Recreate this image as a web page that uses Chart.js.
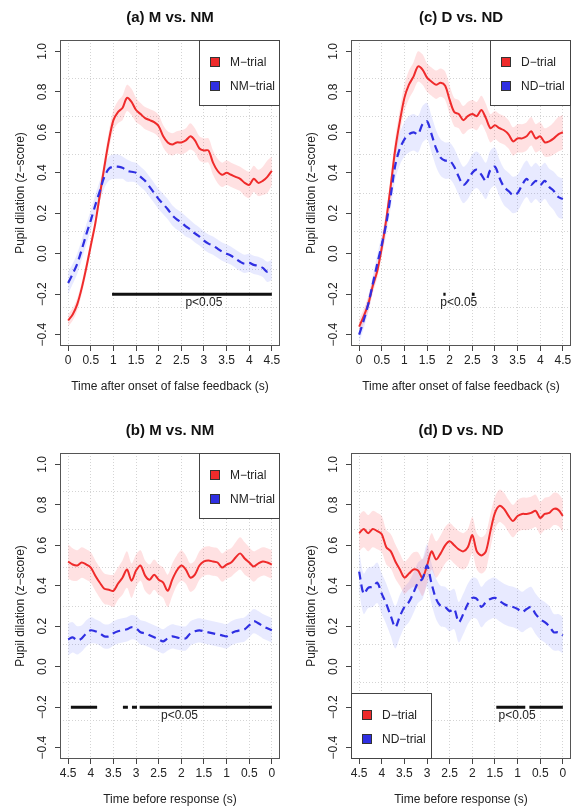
<!DOCTYPE html>
<html>
<head>
<meta charset="utf-8">
<script src="https://cdn.jsdelivr.net/npm/chart.js@4.4.1/dist/chart.umd.min.js"></script>
<style>
    html, body { margin: 0; padding: 0; background: #fff; }
    body { position: relative; width: 574px; height: 807px; overflow: hidden; }
    canvas { position: absolute; }
</style>
</head>
<body>
<canvas id="chartA" width="287" height="400" style="left:0px;top:0px"></canvas>
<canvas id="chartC" width="287" height="400" style="left:291px;top:0px"></canvas>
<canvas id="chartB" width="287" height="400" style="left:0px;top:413px"></canvas>
<canvas id="chartD" width="287" height="400" style="left:291px;top:413px"></canvas>
<script>
// time axes (s)
const timeAfter = [0, 0.1, 0.2, 0.3, 0.4, 0.5, 0.6, 0.7, 0.8, 0.9, 1.0, 1.1, 1.2, 1.3, 1.4, 1.5, 1.6, 1.7, 1.8, 1.9, 2.0, 2.1, 2.2,
    2.3, 2.4, 2.5, 2.6, 2.7, 2.8, 2.9, 3.0, 3.1, 3.2, 3.3, 3.4, 3.5, 3.6, 3.7, 3.8, 3.9, 4.0, 4.1, 4.2, 4.3, 4.4, 4.5]
const timeBefore = [4.5, 4.4, 4.3, 4.2, 4.1, 4.0, 3.9, 3.8, 3.7, 3.6, 3.5, 3.4, 3.3, 3.2, 3.1, 3.0, 2.9, 2.8, 2.7, 2.6, 2.5, 2.4, 2.3,
    2.2, 2.1, 2.0, 1.9, 1.8, 1.7, 1.6, 1.5, 1.4, 1.3, 1.2, 1.1, 1.0, 0.9, 0.8, 0.7, 0.6, 0.5, 0.4, 0.3, 0.2, 0.1, 0]

const xTicks = [0, 0.5, 1, 1.5, 2, 2.5, 3, 3.5, 4, 4.5]
const yTicks = [-0.4, -0.2, 0, 0.2, 0.4, 0.6, 0.8, 1.0]

// (a) M vs. NM, after false feedback
const mTrialA = [-0.33, -0.30, -0.25, -0.17, -0.07, 0.04, 0.15, 0.29, 0.43, 0.56, 0.66, 0.70, 0.72, 0.77, 0.75, 0.71, 0.69, 0.67,
    0.66, 0.65, 0.63, 0.58, 0.55, 0.54, 0.55, 0.55, 0.56, 0.58, 0.56, 0.52, 0.51, 0.51, 0.45, 0.41, 0.39, 0.40, 0.39, 0.38, 0.37,
    0.35, 0.34, 0.37, 0.35, 0.36, 0.38, 0.41]
const mTrialASe = [0.03, 0.03, 0.03, 0.03, 0.03, 0.03, 0.03, 0.035, 0.04, 0.045, 0.05, 0.055, 0.06, 0.065, 0.065, 0.06, 0.055, 0.055,
    0.055, 0.055, 0.055, 0.055, 0.055, 0.055, 0.055, 0.06, 0.06, 0.065, 0.06, 0.06, 0.06, 0.06, 0.06, 0.06, 0.06, 0.06, 0.06, 0.06,
    0.06, 0.065, 0.065, 0.065, 0.065, 0.07, 0.08, 0.07]
const nmTrialA = [-0.145, -0.10, -0.05, 0.02, 0.095, 0.165, 0.24, 0.31, 0.38, 0.42, 0.43, 0.43, 0.425, 0.41, 0.405, 0.40, 0.38, 0.36,
    0.33, 0.30, 0.27, 0.245, 0.22, 0.19, 0.17, 0.155, 0.135, 0.12, 0.10, 0.085, 0.065, 0.05, 0.04, 0.025, 0.01, 0.0, -0.01, -0.025,
    -0.04, -0.05, -0.045, -0.055, -0.06, -0.07, -0.09, -0.08]
const nmTrialASe = [0.055, 0.05, 0.05, 0.05, 0.05, 0.05, 0.05, 0.05, 0.055, 0.06, 0.06, 0.06, 0.055, 0.055, 0.05, 0.05, 0.05, 0.05,
    0.05, 0.05, 0.05, 0.05, 0.05, 0.05, 0.05, 0.05, 0.05, 0.045, 0.045, 0.045, 0.045, 0.045, 0.045, 0.045, 0.045, 0.045, 0.045, 0.045,
    0.045, 0.045, 0.045, 0.045, 0.045, 0.045, 0.05, 0.05]
const sigA = [[0.97, 4.5]]

// (c) D vs. ND, after false feedback
const dTrialC = [-0.36, -0.31, -0.25, -0.16, -0.085, 0.03, 0.17, 0.34, 0.52, 0.655, 0.77, 0.835, 0.875, 0.925, 0.91, 0.87, 0.85, 0.835,
    0.845, 0.83, 0.76, 0.70, 0.69, 0.66, 0.68, 0.69, 0.68, 0.71, 0.67, 0.62, 0.635, 0.62, 0.61, 0.59, 0.555, 0.57, 0.57, 0.58, 0.605,
    0.57, 0.58, 0.55, 0.555, 0.57, 0.59, 0.60]
const dTrialCSe = [0.035, 0.035, 0.035, 0.035, 0.035, 0.04, 0.045, 0.05, 0.055, 0.06, 0.065, 0.07, 0.07, 0.075, 0.075, 0.07, 0.07, 0.07,
    0.07, 0.07, 0.07, 0.07, 0.07, 0.07, 0.07, 0.07, 0.07, 0.07, 0.07, 0.07, 0.07, 0.07, 0.07, 0.07, 0.07, 0.07, 0.07, 0.07, 0.07,
    0.07, 0.07, 0.07, 0.075, 0.08, 0.085, 0.085]
const ndTrialC = [-0.40, -0.33, -0.25, -0.15, -0.05, 0.045, 0.15, 0.29, 0.44, 0.52, 0.565, 0.59, 0.60, 0.59, 0.64, 0.655, 0.59, 0.52,
    0.475, 0.46, 0.46, 0.43, 0.38, 0.34, 0.36, 0.40, 0.415, 0.39, 0.36, 0.415, 0.43, 0.375, 0.33, 0.31, 0.29, 0.30, 0.34, 0.37, 0.34,
    0.36, 0.34, 0.36, 0.33, 0.31, 0.28, 0.27]
const ndTrialCSe = [0.04, 0.04, 0.04, 0.04, 0.045, 0.05, 0.055, 0.06, 0.07, 0.08, 0.085, 0.09, 0.09, 0.09, 0.09, 0.09, 0.09, 0.09,
    0.09, 0.09, 0.09, 0.09, 0.09, 0.09, 0.09, 0.09, 0.09, 0.09, 0.09, 0.095, 0.095, 0.09, 0.09, 0.09, 0.09, 0.09, 0.09, 0.09, 0.09,
    0.09, 0.09, 0.09, 0.09, 0.095, 0.1, 0.1]
const sigC = [[1.86, 1.91], [2.49, 2.55]]

// (b) M vs. NM, before response
const mTrialB = [0.52, 0.505, 0.50, 0.515, 0.505, 0.49, 0.45, 0.415, 0.385, 0.38, 0.375, 0.41, 0.44, 0.48, 0.425, 0.475, 0.50, 0.45,
    0.43, 0.455, 0.43, 0.415, 0.375, 0.43, 0.475, 0.50, 0.48, 0.44, 0.455, 0.50, 0.52, 0.525, 0.52, 0.515, 0.49, 0.505, 0.515, 0.54,
    0.56, 0.535, 0.515, 0.495, 0.51, 0.52, 0.515, 0.505]
const mTrialBSe = [0.085, 0.08, 0.075, 0.075, 0.075, 0.075, 0.075, 0.075, 0.075, 0.075, 0.08, 0.08, 0.085, 0.09, 0.085, 0.08, 0.075,
    0.075, 0.075, 0.075, 0.075, 0.075, 0.08, 0.08, 0.075, 0.075, 0.07, 0.07, 0.07, 0.07, 0.07, 0.07, 0.07, 0.07, 0.07, 0.07, 0.07,
    0.075, 0.08, 0.08, 0.075, 0.075, 0.07, 0.07, 0.07, 0.07]
const nmTrialB = [0.135, 0.145, 0.13, 0.14, 0.165, 0.18, 0.175, 0.165, 0.15, 0.15, 0.165, 0.175, 0.18, 0.185, 0.195, 0.19, 0.17, 0.165,
    0.155, 0.145, 0.135, 0.125, 0.14, 0.15, 0.145, 0.14, 0.14, 0.165, 0.175, 0.18, 0.175, 0.17, 0.165, 0.16, 0.155, 0.15, 0.165, 0.175,
    0.18, 0.185, 0.205, 0.225, 0.215, 0.20, 0.19, 0.18]
const nmTrialBSe = [0.08, 0.075, 0.07, 0.065, 0.065, 0.065, 0.06, 0.06, 0.06, 0.06, 0.06, 0.06, 0.06, 0.06, 0.06, 0.06, 0.06, 0.06,
    0.06, 0.06, 0.06, 0.06, 0.06, 0.06, 0.06, 0.06, 0.06, 0.06, 0.06, 0.06, 0.06, 0.06, 0.06, 0.06, 0.06, 0.06, 0.06, 0.06, 0.06,
    0.06, 0.06, 0.06, 0.06, 0.06, 0.06, 0.06]
const sigB = [[4.44, 3.86], [3.29, 3.18], [3.09, 2.98], [2.92, 0]]

// (d) D vs. ND, before response
const dTrialD = [0.66, 0.68, 0.66, 0.68, 0.67, 0.655, 0.59, 0.57, 0.52, 0.48, 0.44, 0.46, 0.48, 0.475, 0.44, 0.50, 0.57, 0.53, 0.56,
    0.60, 0.62, 0.60, 0.58, 0.57, 0.59, 0.65, 0.57, 0.55, 0.57, 0.67, 0.76, 0.795, 0.78, 0.745, 0.72, 0.745, 0.755, 0.755, 0.76, 0.77,
    0.735, 0.755, 0.76, 0.78, 0.775, 0.745]
const dTrialDSe = [0.09, 0.09, 0.09, 0.09, 0.09, 0.09, 0.085, 0.085, 0.085, 0.08, 0.08, 0.08, 0.085, 0.09, 0.09, 0.09, 0.09, 0.09,
    0.09, 0.09, 0.09, 0.09, 0.09, 0.09, 0.09, 0.09, 0.09, 0.09, 0.09, 0.085, 0.08, 0.08, 0.08, 0.08, 0.08, 0.08, 0.08, 0.08, 0.08,
    0.08, 0.08, 0.08, 0.08, 0.08, 0.08, 0.08]
const ndTrialD = [0.47, 0.36, 0.39, 0.395, 0.415, 0.36, 0.31, 0.25, 0.195, 0.25, 0.295, 0.32, 0.365, 0.415, 0.435, 0.50, 0.41, 0.335,
    0.30, 0.295, 0.275, 0.285, 0.22, 0.26, 0.31, 0.34, 0.335, 0.295, 0.32, 0.335, 0.34, 0.325, 0.31, 0.30, 0.295, 0.285, 0.27, 0.285,
    0.295, 0.26, 0.235, 0.22, 0.20, 0.17, 0.17, 0.155]
const ndTrialDSe = [0.1, 0.1, 0.1, 0.1, 0.1, 0.1, 0.1, 0.1, 0.105, 0.105, 0.1, 0.1, 0.1, 0.1, 0.1, 0.105, 0.1, 0.1, 0.1, 0.1, 0.1, 0.1,
    0.1, 0.1, 0.1, 0.1, 0.1, 0.1, 0.1, 0.1, 0.1, 0.1, 0.1, 0.1, 0.1, 0.1, 0.1, 0.1, 0.1, 0.1, 0.1, 0.1, 0.1, 0.09, 0.09, 0.09]
const sigD = [[1.47, 0.83], [0.74, 0]]

const sigLevel = -0.2

const FONT = '"Liberation Sans", Arial, Helvetica, sans-serif'
const RED = '#ef2b2b'
const BLUE = '#2f2fe2'
const RED_BAND = 'rgba(255, 40, 50, 0.14)'
const BLUE_BAND = 'rgba(50, 60, 255, 0.11)'
const GRID = '#d4d4d4'
const INK = '#222'

const pts = (times, vals) => times.map((t, i) => ({ x: t, y: vals[i] }))

function band(times, mean, se, color) {
    const lo = mean.map((v, i) => v - se[i])
    const hi = mean.map((v, i) => v + se[i])
    return [
        { data: pts(times, lo), borderWidth: 0, pointRadius: 0, fill: false, tension: 0.3, order: 5 },
        { data: pts(times, hi), borderWidth: 0, pointRadius: 0, fill: '-1', backgroundColor: color, tension: 0.3, order: 5 },
    ]
}

function sigData(segs) {
    const out = []
    segs.forEach(s => {
        out.push({ x: s[0], y: sigLevel }, { x: s[1], y: sigLevel }, { x: s[1], y: null })
    })
    return out
}

// box, title, rotated y labels, legend and p-label
const decor = {
    id: 'decor',
    afterDraw(chart, args, o) {
        const { ctx, chartArea: a, scales: { x, y } } = chart
        ctx.save()
        ctx.strokeStyle = '#555'
        ctx.lineWidth = 1
        ctx.strokeRect(a.left + 0.5, a.top + 0.5, a.width - 1, a.height - 1)

        ctx.fillStyle = '#111'
        ctx.font = 'bold 15px ' + FONT
        ctx.textAlign = 'center'
        ctx.textBaseline = 'middle'
        ctx.fillText(o.title, (a.left + a.right) / 2, 17.5)

        ctx.font = '12px ' + FONT
        ctx.fillStyle = INK
        y.ticks.forEach(t => {
            ctx.save()
            ctx.translate(a.left - 17, y.getPixelForValue(t.value))
            ctx.rotate(-Math.PI / 2)
            ctx.fillText(t.value.toFixed(1).replace('-', '\u2212'), 0, 0)
            ctx.restore()
        })

        ctx.fillText(o.sigText, x.getPixelForValue(o.sigX), y.getPixelForValue(sigLevel) + 8)

        const w = 81, h = 66
        const lx = o.legendPos === 'bottomleft' ? a.left : a.right - w
        const ly = o.legendPos === 'bottomleft' ? a.bottom - h : a.top
        ctx.fillStyle = '#fff'
        ctx.fillRect(lx, ly, w, h)
        ctx.strokeStyle = '#444'
        ctx.strokeRect(lx + 0.5, ly + 0.5, w - 1, h - 1)
        o.items.forEach((it, i) => {
            const ry = ly + 22 + i * 24
            ctx.fillStyle = it.color
            ctx.fillRect(lx + 11, ry - 5, 10, 10)
            ctx.strokeStyle = '#333'
            ctx.strokeRect(lx + 11.5, ry - 4.5, 9, 9)
            ctx.fillStyle = INK
            ctx.textAlign = 'left'
            ctx.fillText(it.label, lx + 31, ry + 0.5)
        })
        ctx.restore()
    }
}

function makeChart(id, p) {
    return new Chart(document.getElementById(id), {
        type: 'line',
        data: {
            datasets: [
                ...band(p.times, p.red, p.redSe, RED_BAND),
                ...band(p.times, p.blue, p.blueSe, BLUE_BAND),
                { data: pts(p.times, p.red), borderColor: RED, borderWidth: 2, pointRadius: 0, tension: 0.3, fill: false, order: 2 },
                { data: pts(p.times, p.blue), borderColor: BLUE, borderWidth: 2.2, borderDash: [8, 5], pointRadius: 0, tension: 0.3, fill: false, order: 1 },
                { data: sigData(p.sig), borderColor: '#111', borderWidth: 3, borderCapStyle: 'butt', pointRadius: 0, spanGaps: false, tension: 0, fill: false, order: 0 },
            ]
        },
        options: {
            responsive: false,
            animation: false,
            events: [],
            layout: { padding: { left: 0, right: 0, top: 40, bottom: 0 } },
            scales: {
                x: {
                    type: 'linear',
                    min: -0.18,
                    max: 4.68,
                    reverse: p.reverse,
                    afterBuildTicks: s => { s.ticks = xTicks.map(v => ({ value: v })) },
                    afterFit: s => { s.height = 54 },
                    ticks: { font: { family: FONT, size: 12 }, color: INK, padding: 2, maxRotation: 0, callback: v => String(v) },
                    grid: { color: GRID, tickLength: 5, tickColor: '#444', tickBorderDash: [] },
                    border: { display: false, dash: [1, 2] },
                    title: { display: true, text: p.xTitle, font: { family: FONT, size: 12 }, color: INK, padding: { top: 0, bottom: 6 } },
                },
                y: {
                    type: 'linear',
                    min: -0.456,
                    max: 1.056,
                    afterBuildTicks: s => { s.ticks = yTicks.map(v => ({ value: v })) },
                    afterFit: s => { s.width = 60 },
                    ticks: { display: false },
                    grid: { drawOnChartArea: false, tickLength: 5, tickColor: '#444' },
                    border: { display: false },
                    title: { display: true, text: 'Pupil dilation (z\u2212score)', font: { family: FONT, size: 12 }, color: INK, padding: { top: 13, bottom: 0 } },
                },
                // R grid(ny = 8): eight equal strips
                yGrid: {
                    type: 'linear',
                    position: 'right',
                    min: 0,
                    max: 8,
                    afterBuildTicks: s => { s.ticks = [1, 2, 3, 4, 5, 6, 7].map(v => ({ value: v })) },
                    afterFit: s => { s.width = 7 },
                    ticks: { display: false },
                    grid: { color: GRID, drawTicks: false },
                    border: { display: false, dash: [1, 2] },
                },
            },
            plugins: {
                legend: { display: false },
                tooltip: { enabled: false },
                decor: {
                    title: p.title,
                    legendPos: p.legendPos,
                    items: [{ label: p.names[0], color: RED }, { label: p.names[1], color: BLUE }],
                    sigText: 'p<0.05',
                    sigX: p.sigX,
                }
            }
        },
        plugins: [decor]
    })
}

const chartA = makeChart('chartA', {
    title: '(a) M vs. NM', times: timeAfter, red: mTrialA, redSe: mTrialASe, blue: nmTrialA, blueSe: nmTrialASe,
    names: ['M\u2212trial', 'NM\u2212trial'], reverse: false, xTitle: 'Time after onset of false feedback (s)',
    sig: sigA, sigX: 3.0, legendPos: 'topright'
})

const chartC = makeChart('chartC', {
    title: '(c) D vs. ND', times: timeAfter, red: dTrialC, redSe: dTrialCSe, blue: ndTrialC, blueSe: ndTrialCSe,
    names: ['D\u2212trial', 'ND\u2212trial'], reverse: false, xTitle: 'Time after onset of false feedback (s)',
    sig: sigC, sigX: 2.2, legendPos: 'topright'
})

const chartB = makeChart('chartB', {
    title: '(b) M vs. NM', times: timeBefore, red: mTrialB, redSe: mTrialBSe, blue: nmTrialB, blueSe: nmTrialBSe,
    names: ['M\u2212trial', 'NM\u2212trial'], reverse: true, xTitle: 'Time before response (s)',
    sig: sigB, sigX: 2.04, legendPos: 'topright'
})

const chartD = makeChart('chartD', {
    title: '(d) D vs. ND', times: timeBefore, red: dTrialD, redSe: dTrialDSe, blue: ndTrialD, blueSe: ndTrialDSe,
    names: ['D\u2212trial', 'ND\u2212trial'], reverse: true, xTitle: 'Time before response (s)',
    sig: sigD, sigX: 1.01, legendPos: 'bottomleft'
})
</script>
</body>
</html>
